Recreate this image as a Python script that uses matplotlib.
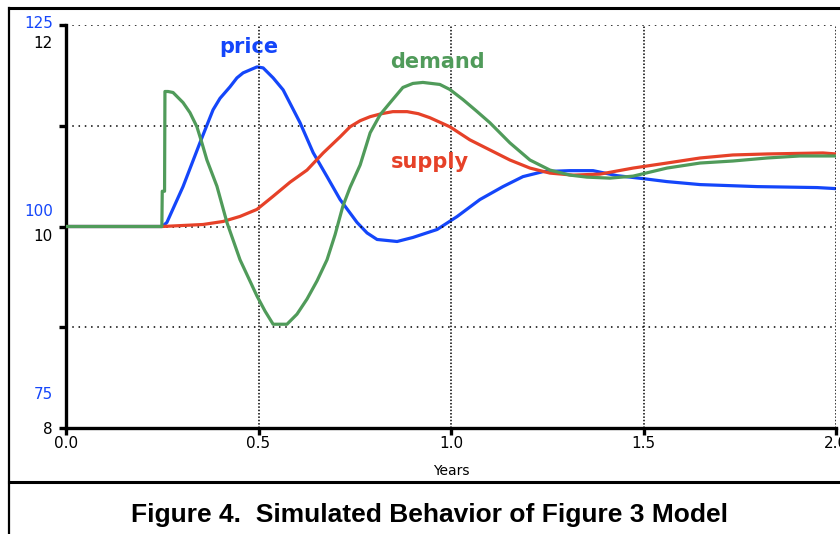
import matplotlib
matplotlib.use("Agg")
import matplotlib.pyplot as plt
from matplotlib.lines import Line2D
from matplotlib.transforms import offset_copy

# ---- data ----
demand_t = [0.0, 0.249, 0.250, 0.256, 0.257, 0.265, 0.278, 0.304, 0.322, 0.340, 0.353, 0.366,
            0.379, 0.392, 0.418, 0.452, 0.496, 0.517, 0.538, 0.574, 0.600, 0.626, 0.652,
            0.678, 0.699, 0.719, 0.738, 0.764, 0.790, 0.816, 0.842, 0.875, 0.901, 0.927,
            0.971, 0.997, 1.031, 1.065, 1.101, 1.153, 1.205, 1.257, 1.309, 1.353, 1.413,
            1.473, 1.561, 1.647, 1.732, 1.821, 1.906, 2.0]
demand_v = [10.0, 10.0, 10.35, 10.35, 11.34, 11.34, 11.33, 11.23, 11.13, 10.99, 10.83, 10.66,
            10.53, 10.40, 10.04, 9.67, 9.31, 9.16, 9.03, 9.03, 9.13, 9.28, 9.46,
            9.67, 9.92, 10.20, 10.39, 10.61, 10.93, 11.11, 11.23, 11.38, 11.42, 11.43,
            11.41, 11.36, 11.26, 11.15, 11.03, 10.83, 10.66, 10.56, 10.51, 10.49, 10.48,
            10.50, 10.58, 10.63, 10.65, 10.68, 10.70, 10.70]

supply_t = [0.0, 0.250, 0.356, 0.408, 0.452, 0.496, 0.538, 0.582, 0.626, 0.668, 0.712, 0.738,
            0.764, 0.790, 0.820, 0.849, 0.886, 0.915, 0.945, 0.997, 1.049, 1.101, 1.153,
            1.205, 1.257, 1.317, 1.387, 1.473, 1.561, 1.647, 1.732, 1.821, 1.966, 2.0]
supply_v = [10.0, 10.0, 10.02, 10.05, 10.10, 10.17, 10.30, 10.44, 10.56, 10.73, 10.89, 10.99,
            11.05, 11.09, 11.12, 11.14, 11.14, 11.12, 11.08, 10.99, 10.86, 10.76, 10.66,
            10.58, 10.53, 10.51, 10.52, 10.58, 10.63, 10.68, 10.71, 10.72, 10.73, 10.72]

price_t = [0.0, 0.250, 0.262, 0.304, 0.348, 0.382, 0.400, 0.426, 0.444, 0.460, 0.478, 0.496,
           0.512, 0.538, 0.564, 0.608, 0.642, 0.678, 0.712, 0.756, 0.782, 0.808, 0.860,
           0.901, 0.964, 1.016, 1.075, 1.135, 1.187, 1.239, 1.309, 1.369, 1.431, 1.499,
           1.561, 1.647, 1.795, 1.951, 2.0]
price_v = [100.0, 100.0, 100.5, 104.95, 110.40, 114.48, 115.90, 117.33, 118.44, 119.06, 119.43,
           119.80, 119.68, 118.44, 116.95, 112.87, 109.16, 106.19, 103.34, 100.50, 99.20,
           98.39, 98.14, 98.64, 99.63, 101.24, 103.34, 104.95, 106.19, 106.81, 106.93, 106.93,
           106.31, 105.94, 105.57, 105.20, 104.95, 104.83, 104.70]

x_ticks = [0.0, 0.5, 1.0, 1.5, 2.0]
x_labels = ["0.0", "0.5", "1.0", "1.5", "2.0"]
left_labels = ["8", "10", "12"]
left_vals = [8, 10, 12]
price_labels = ["75", "100", "125"]
price_vals = [75, 100, 125]

BLUE = "#1446fa"
RED = "#e64128"
GREEN = "#509b5a"

fig = plt.figure(figsize=(8.4, 5.34), dpi=100)
W, H = 840, 534
ax = fig.add_axes([66 / W, 1 - 428 / H, (836 - 66) / W, (428 - 25) / H])
ax2 = ax.twinx()

ax.set_xlim(0, 2)
ax.set_ylim(8, 12)
ax2.set_ylim(75, 125)

# grid
for gx in [0.5, 1.0, 1.5, 2.0]:
    ax.axvline(gx, color="black", lw=1.1, linestyle=(0, (1, 1.2)), zorder=1)
for gy in [9, 10, 11, 12]:
    ax.axhline(gy, color="black", lw=1.1, linestyle=(0, (1, 3.1)), zorder=1)

ax2.plot(price_t, price_v, color=BLUE, lw=2.3, zorder=3)
ax.plot(supply_t, supply_v, color=RED, lw=2.3, zorder=3)
ax.plot(demand_t, demand_v, color=GREEN, lw=2.3, zorder=4)
ax.set_zorder(ax2.get_zorder() + 1)
ax.patch.set_visible(False)

for a in (ax, ax2):
    a.spines["top"].set_visible(False)
    a.spines["right"].set_visible(False)
ax2.spines["left"].set_visible(False)
ax2.spines["bottom"].set_visible(False)
ax2.set_yticks([])
ax.spines["left"].set_linewidth(2.4)
ax.spines["bottom"].set_linewidth(2.4)

ax.set_xticks(x_ticks)
ax.set_xticklabels(x_labels, fontsize=11)
ax.set_yticks([8, 9, 10, 11, 12])
ax.set_yticklabels([])
ax.tick_params(axis="both", direction="out", length=5, width=2.4, color="black")
ax.tick_params(axis="x", pad=1)

# left labels (black) and price labels (blue); offsets in pixels
black_off = {8: -1, 10: -10, 12: -18}
for v, lab in zip(left_vals, left_labels):
    tr = offset_copy(ax.get_yaxis_transform(), fig=fig, x=-9.5, y=black_off[v] * 0.72, units="points")
    ax.text(0, v, lab, transform=tr, ha="right", va="center", fontsize=11, color="black")
blue_off = {75: 33, 100: 15, 125: 1}
for v, lab in zip(price_vals, price_labels):
    tr = offset_copy(ax2.get_yaxis_transform(), fig=fig, x=-9.5, y=blue_off[v] * 0.72, units="points")
    ax2.text(0, v, lab, transform=tr, ha="right", va="center", fontsize=11, color=BLUE)

ax.set_xlabel("Years", fontsize=10, labelpad=9)

# series labels
ax2.text(0.475, 122.3, "price", color=BLUE, fontsize=15, fontweight="bold", ha="center", va="center")
ax.text(0.966, 11.63, "demand", color=GREEN, fontsize=15, fontweight="bold", ha="center", va="center")
ax.text(0.945, 10.64, "supply", color=RED, fontsize=15, fontweight="bold", ha="center", va="center")

# frame
fig.add_artist(Line2D([9 / W, 9 / W], [0, 1 - 8 / H], color="black", lw=1.6, transform=fig.transFigure))
fig.add_artist(Line2D([9 / W, 1], [1 - 8 / H, 1 - 8 / H], color="black", lw=2.2, transform=fig.transFigure))
fig.add_artist(Line2D([9 / W, 1], [1 - 482 / H, 1 - 482 / H], color="black", lw=2.2, transform=fig.transFigure))

fig.text(430 / W, 1 - 515 / H, "Figure 4.  Simulated Behavior of Figure 3 Model",
         ha="center", va="center", fontsize=19, fontweight="bold", family="Liberation Sans")

fig.savefig("out.png", dpi=100)
